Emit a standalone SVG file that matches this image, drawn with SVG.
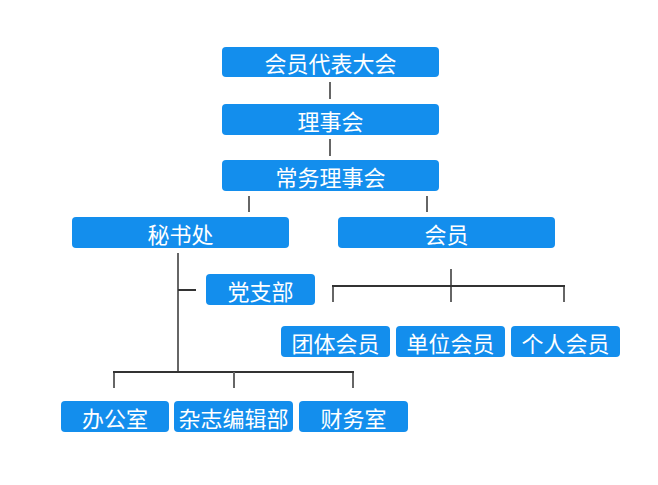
<svg xmlns="http://www.w3.org/2000/svg" width="658" height="485" viewBox="0 0 658 485">
<style>
.box{fill:#138eed}
.t{fill:#fff;font-family:"Noto Sans CJK SC","Noto Sans",sans-serif;font-size:22px;text-anchor:middle;dominant-baseline:central}
.v{stroke:#666;stroke-width:2;fill:none}
.h{stroke:#333;stroke-width:2;fill:none}
</style>
<rect width="658" height="485" fill="#fff"/>
<g id="connectors">
<line class="v" x1="330" y1="82" x2="330" y2="99"/>
<line class="v" x1="330" y1="139" x2="330" y2="156"/>
<line class="v" x1="249" y1="196" x2="249" y2="212"/>
<line class="v" x1="427" y1="196" x2="427" y2="212"/>
<line class="v" x1="178" y1="253" x2="178" y2="372"/>
<line class="h" x1="178" y1="290" x2="196" y2="290"/>
<line class="v" x1="451" y1="269" x2="451" y2="302"/>
<polyline class="h" points="333,302 333,286 564,286 564,302"/>
<line class="v" x1="333" y1="287" x2="333" y2="302"/>
<line class="v" x1="564" y1="287" x2="564" y2="302"/>
<polyline class="h" points="114,388 114,372 353,372 353,388"/>
<line class="v" x1="114" y1="373" x2="114" y2="388"/>
<line class="v" x1="353" y1="373" x2="353" y2="388"/>
<line class="v" x1="234" y1="372" x2="234" y2="388"/>
</g>
<g id="n1"><rect class="box" x="222" y="47" width="217" height="30" rx="4"/><text class="t" x="330.5" y="62">会员代表大会</text></g>
<g id="n2"><rect class="box" x="222" y="104" width="217" height="31" rx="4"/><text class="t" x="330.5" y="119.5">理事会</text></g>
<g id="n3"><rect class="box" x="222" y="160" width="217" height="31" rx="4"/><text class="t" x="330.5" y="175.5">常务理事会</text></g>
<g id="n4"><rect class="box" x="72" y="217" width="217" height="31" rx="4"/><text class="t" x="180.5" y="232.5">秘书处</text></g>
<g id="n5"><rect class="box" x="338" y="217" width="217" height="31" rx="4"/><text class="t" x="446.5" y="232.5">会员</text></g>
<g id="n6"><rect class="box" x="206" y="274" width="109" height="31" rx="4"/><text class="t" x="260.5" y="289.5">党支部</text></g>
<g id="n7"><rect class="box" x="281" y="326" width="109" height="31" rx="4"/><text class="t" x="335.5" y="341.5">团体会员</text></g>
<g id="n8"><rect class="box" x="396" y="326" width="109" height="31" rx="4"/><text class="t" x="450.5" y="341.5">单位会员</text></g>
<g id="n9"><rect class="box" x="511" y="326" width="109" height="31" rx="4"/><text class="t" x="565.5" y="341.5">个人会员</text></g>
<g id="n10"><rect class="box" x="61" y="401" width="108" height="31" rx="4"/><text class="t" x="115" y="416.5">办公室</text></g>
<g id="n11"><rect class="box" x="174" y="401" width="119" height="31" rx="4"/><text class="t" x="233.5" y="416.5">杂志编辑部</text></g>
<g id="n12"><rect class="box" x="299" y="401" width="109" height="31" rx="4"/><text class="t" x="353.5" y="416.5">财务室</text></g>
</svg>
